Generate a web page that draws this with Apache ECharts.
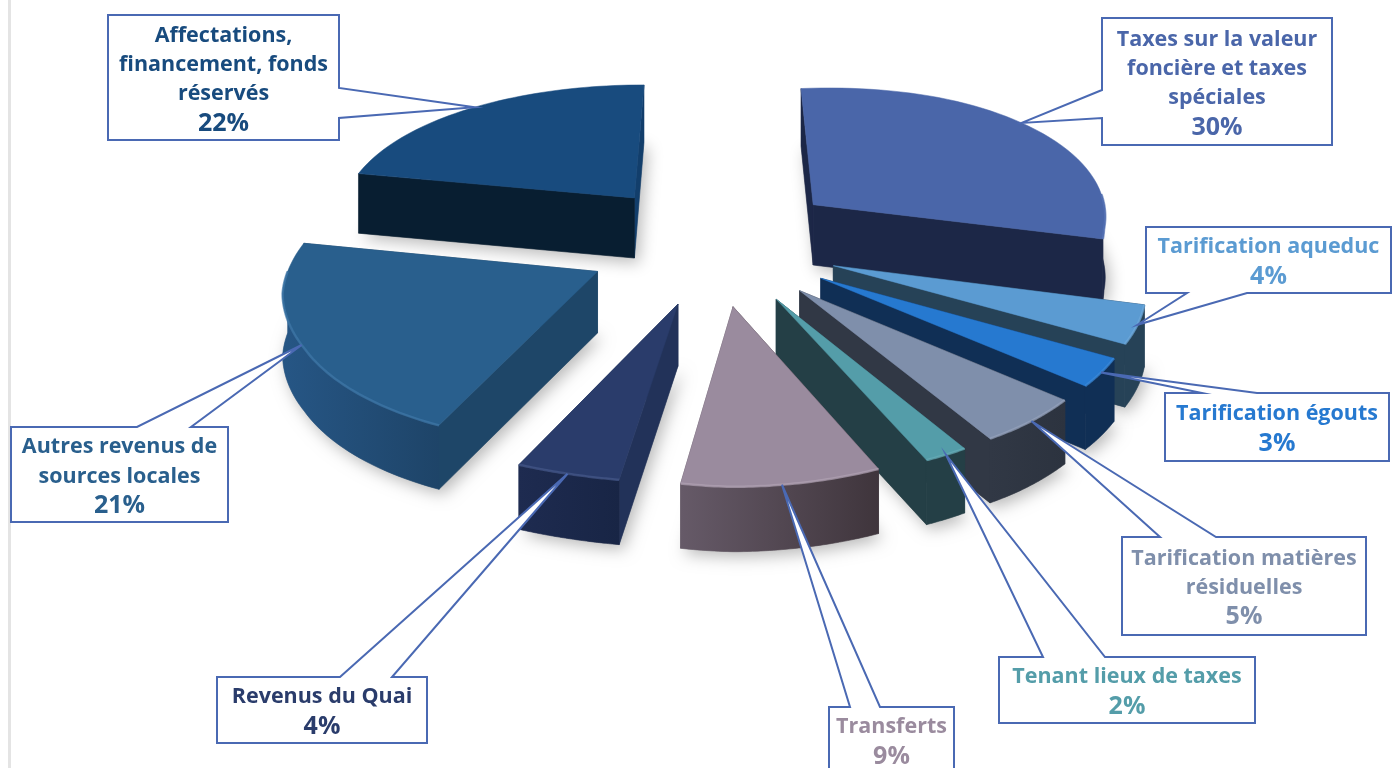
<!DOCTYPE html>
<html><head><meta charset="utf-8">
<style>html,body{margin:0;padding:0;background:#fff}#c{width:1397px;height:768px}</style>
<script src="https://cdn.jsdelivr.net/npm/echarts@6/dist/echarts.min.js"></script></head>
<body><div id="c"></div>
<script>
// ---- data ----
const categories = ['Taxes sur la valeur\nfoncière et taxes\nspéciales','Tarification aqueduc','Tarification égouts','Tarification matières\nrésiduelles','Tenant lieux de taxes','Transferts','Revenus du Quai','Autres revenus de\nsources locales','Affectations,\nfinancement, fonds\nréservés'];
const values = [30,4,3,5,2,9,4,21,22];
// ---- styles ----
const topColors  = ['#4A66A9','#5B9BD2','#2679D0','#7F8FAB','#549DA9','#9A8B9E','#2A3C6B','#295F8D','#184B7E'];
const textColors = ['#4A66A9','#5B9BD2','#2679D0','#7F8FAB','#549DA9','#9A8B9E','#2A3C6B','#295F8D','#184B7E'];
const startWall  = ['#1C2747','#264257','#102F55','#313845','#243F46','#433940','#223259','#1E4668','#081E31'];
const endWall    = ['#1C2747','#264257','#102F55','#313845','#243F46','#5E5360','#223259','#1E4668','#123E6B'];
const outerFrom  = ['#1C2747','#264257','#102F55','#313845','#243F46','#665A68','#1E2B50','#265685','#081E31'];
const outerTo    = ['#1C2747','#264257','#102F55','#2C333F','#243F46','#3F353C','#182545','#1E4468','#081E31'];
const rimColors  = ['#5673B8','#6FA9DC','#3C8ADA','#95A3BC','#66ADB8','#B0A2B4','#46588A','#3E78A8','#1F5488'];
// callout layout: box [x,y,w,h], side, base start, base end
const boxes = [[1102,18,230,127],[1146,227,245,66],[1165,393,224,68],[1122,537,244,98],[999,657,256,66],[829,707,125,66],[217,677,210,66],[11,427,217,95],[108,15,231,125]];
const sides = ['left','bottom','top','top','top','top','top','top','right'];
const bases = [[90,118],[1187,1247],[1202,1257],[1160,1216],[1043,1105],[850,880],[340,392],[137,191],[88,118]];

// ---- pie geometry (a tilted, exploded pie with perspective) ----
const CX=715,CY=243,EXPLODE=125,R=300,DEPTH=61,LINE=29.3;
const total = values.reduce((a,b)=>a+b,0);
const starts=[]; let acc=0; for(const v of values){starts.push(acc/total*2*Math.PI);acc+=v;}
const sweep=i=>values[i]/total*2*Math.PI;
const midA=i=>starts[i]+sweep(i)/2;
const clamp=(v)=>Math.max(0,Math.min(1,v));
function plane(i,t,r){const m=midA(i);return [EXPLODE*Math.sin(m)+r*Math.sin(t),-EXPLODE*Math.cos(m)-r*Math.cos(t)];}
function proj(p,z){const X=p[0],Y=p[1],s=1+(Y<0?0.0004:0.00047)*Y,q=Y<0?0.00023:0.0002;
  const skew=0.045*Math.max(Y,0)*clamp((X+170)/80)-5*clamp(-X/100)*clamp((200-Y)/100)-3*clamp((X-250)/100);
  return [CX+X*s+skew, CY+0.49*Y+q*Y*Y-0.035*Math.max(X,0)+z*DEPTH*(1+0.00015*Y)];}
function arcPts(i,z,a,b){const n=48,pts=[];for(let k=0;k<=n;k++){pts.push(proj(plane(i,a+(b-a)*k/n,R),z));}return pts;}
function poly(points,style){return {type:'polygon',silent:true,shape:{points},style};}

function renderSlice(params,api){
  const i=api.value(0);
  const t0=starts[i],t1=t0+sweep(i);
  const apT=proj(plane(i,0,0),0),apB=proj(plane(i,0,0),1);
  const top=arcPts(i,0,t0,t1),bot=arcPts(i,1,t0,t1);
  const ch=[];
  // soft ground shadow
  ch.push(poly([apB].concat(bot),{fill:'#999',shadowBlur:16,shadowColor:'rgba(0,0,0,0.28)',shadowOffsetX:4,shadowOffsetY:5}));
  // cut faces, rear one first
  const wall=(a,b,c)=>poly([apT,a,b,apB],{fill:c,stroke:c,lineWidth:0.6});
  const w0=wall(top[0],bot[0],startWall[i]), w1=wall(top[top.length-1],bot[bot.length-1],endWall[i]);
  if(top[0][1]<top[top.length-1][1]) ch.push(w0,w1); else ch.push(w1,w0);
  // outer rim wall: only the part of the arc that faces the viewer
  const fa=Math.max(t0,Math.PI/2),fb=Math.min(t1,Math.PI*1.5);
  let rim=null;
  if(fb>fa){
    rim=arcPts(i,0,fa,fb);
    const rb=arcPts(i,1,fa,fb);
    const g={type:'linear',x:0,y:0,x2:1,y2:0,colorStops:[{offset:0,color:outerFrom[i]},{offset:1,color:outerTo[i]}]};
    ch.push(poly(rim.concat(rb.slice().reverse()),{fill:g,stroke:g,lineWidth:0.6}));
  }
  // top face
  ch.push(poly([apT].concat(top),{fill:topColors[i],stroke:topColors[i],lineWidth:0.5}));
  // bevel highlight along the front rim
  if(rim) ch.push({type:'polyline',silent:true,shape:{points:rim},style:{fill:null,stroke:rimColors[i],lineWidth:2.5,opacity:0.7}});
  return {type:'group',children:ch};
}
function renderCallout(params,api){
  const i=api.value(0);
  const [x,y,w,h]=boxes[i],[b0,b1]=bases[i],s=sides[i];
  const tip=proj(plane(i,midA(i),R),0);
  const r=x+w,d=y+h;let pts;
  if(s==='top') pts=[[x,y],[b0,y],tip,[b1,y],[r,y],[r,d],[x,d]];
  else if(s==='bottom') pts=[[x,y],[r,y],[r,d],[b1,d],tip,[b0,d],[x,d]];
  else if(s==='left') pts=[[x,y],[r,y],[r,d],[x,d],[x,b1],tip,[x,b0]];
  else pts=[[x,y],[r,y],[r,b0],tip,[r,b1],[r,d],[x,d]];
  const n=categories[i].split('\n').length,c=y+h/2+2;
  return {type:'group',children:[
    poly(pts,{fill:'#fff',stroke:'#4A69B3',lineWidth:2}),
    {type:'text',silent:true,style:{text:categories[i],x:x+w/2,y:c-LINE/2,align:'center',verticalAlign:'middle',
      font:'700 21.5px "Open Sans", sans-serif',lineHeight:LINE,fill:textColors[i]}},
    {type:'text',silent:true,style:{text:values[i]+'%',x:x+w/2,y:c+LINE*n/2,align:'center',verticalAlign:'middle',
      font:'700 25px "Open Sans", sans-serif',lineHeight:LINE,fill:textColors[i]}}
  ]};
}
const order=values.map((v,i)=>i).sort((a,b)=>(-Math.cos(midA(a)))-(-Math.cos(midA(b))));
const chart=echarts.init(document.getElementById('c'),null,{renderer:'canvas'});
chart.setOption({
  animation:false,backgroundColor:'#fff',
  graphic:[{type:'rect',silent:true,shape:{x:8,y:0,width:3,height:768},style:{fill:'#E4E4E4'},z:0}],
  series:[
    {type:'custom',coordinateSystem:'none',renderItem:renderSlice,data:order.map(i=>[i]),z:2,silent:true},
    {type:'custom',coordinateSystem:'none',renderItem:renderCallout,data:values.map((v,i)=>[i]),z:3,silent:true}
  ]
});
</script></body></html>
